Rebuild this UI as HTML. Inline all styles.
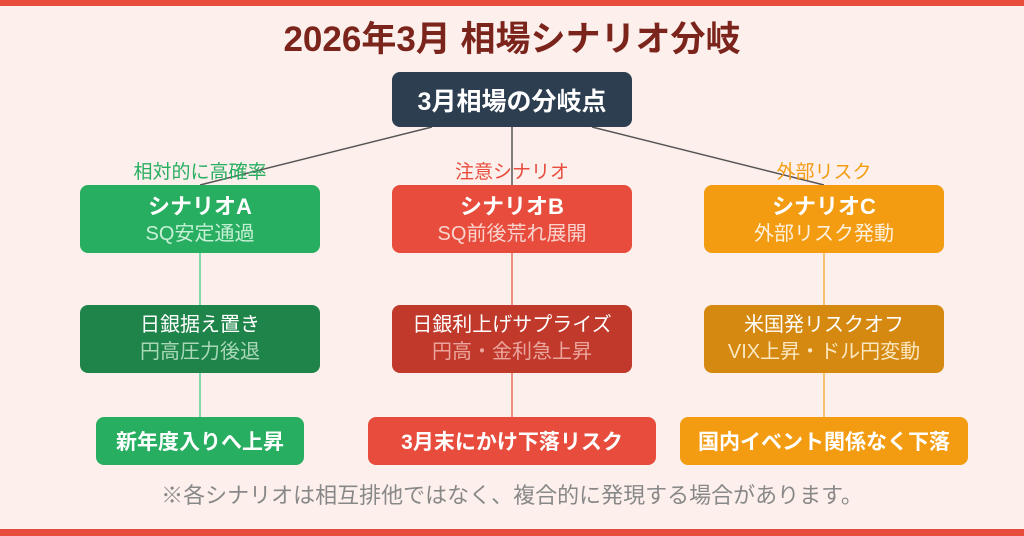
<!DOCTYPE html>
<html><head><meta charset="utf-8"><style>
*{margin:0;padding:0;box-sizing:border-box}
body{width:1024px;height:536px;background:#fdf0ec;position:relative;overflow:hidden;font-family:"Liberation Sans","Noto Sans CJK JP",sans-serif}
.bar{position:absolute;left:0;width:1024px;background:#e74c3c}
.b{position:absolute;border-radius:8px;color:#fff;text-align:center;display:flex;flex-direction:column;justify-content:center;align-items:center}
.t{position:absolute;text-align:center;white-space:nowrap}
.l1{font-size:22px;font-weight:bold;line-height:28px}
.l2{font-size:20px;line-height:27px}
</style></head><body>
<div class="bar" style="top:0;height:6px"></div>
<div class="bar" style="top:529px;height:7px"></div>
<div class="t" style="left:0;width:1024px;top:19px;font-size:35px;font-weight:bold;color:#7b241c;line-height:42px">2026年3月 相場シナリオ分岐</div>
<svg style="position:absolute;left:0;top:0" width="1024" height="536">
<line x1="432" y1="127" x2="200" y2="185" stroke="#555" stroke-width="1.5"/>
<line x1="512" y1="127" x2="512" y2="185" stroke="#555" stroke-width="1.5"/>
<line x1="592" y1="127" x2="824" y2="185" stroke="#555" stroke-width="1.5"/>
<line x1="200" y1="253" x2="200" y2="417" stroke="#58d68d" stroke-width="1.5"/>
<line x1="512" y1="253" x2="512" y2="417" stroke="#ec7063" stroke-width="1.5"/>
<line x1="824" y1="253" x2="824" y2="417" stroke="#f5b041" stroke-width="1.5"/>
</svg>
<div class="b" style="left:392px;top:72px;width:240px;height:55px;background:#2c3e50;font-size:25px;font-weight:bold">3月相場の分岐点</div>
<div class="t" style="left:50px;width:300px;top:161px;font-size:19px;line-height:24px;color:#27ae60">相対的に高確率</div>
<div class="t" style="left:362px;width:300px;top:161px;font-size:19px;line-height:24px;color:#e74c3c">注意シナリオ</div>
<div class="t" style="left:674px;width:300px;top:161px;font-size:19px;line-height:24px;color:#f39c12">外部リスク</div>
<div class="b" style="left:80px;top:185px;width:240px;height:68px;background:#27ae60;padding-top:2px"><div class="l1">シナリオA</div><div class="l2" style="color:#c8f0d6">SQ安定通過</div></div>
<div class="b" style="left:392px;top:185px;width:240px;height:68px;background:#e74c3c;padding-top:2px"><div class="l1">シナリオB</div><div class="l2" style="color:#fad4cf">SQ前後荒れ展開</div></div>
<div class="b" style="left:704px;top:185px;width:240px;height:68px;background:#f39c12;padding-top:2px"><div class="l1">シナリオC</div><div class="l2" style="color:#fdf0dc">外部リスク発動</div></div>
<div class="b" style="left:80px;top:305px;width:240px;height:68px;background:#1e8449"><div class="l2" style="color:#fff">日銀据え置き</div><div class="l2" style="color:#a9d8b8">円高圧力後退</div></div>
<div class="b" style="left:392px;top:305px;width:240px;height:68px;background:#c0392b"><div class="l2" style="color:#fff">日銀利上げサプライズ</div><div class="l2" style="color:#eba59d">円高・金利急上昇</div></div>
<div class="b" style="left:704px;top:305px;width:240px;height:68px;background:#d68910"><div class="l2" style="color:#fff">米国発リスクオフ</div><div class="l2" style="color:#fbe7c0">VIX上昇・ドル円変動</div></div>
<div class="b" style="left:96px;top:417px;width:208px;height:48px;background:#27ae60;font-size:21px;font-weight:bold">新年度入りへ上昇</div>
<div class="b" style="left:368px;top:417px;width:288px;height:48px;background:#e74c3c;font-size:21px;font-weight:bold">3月末にかけ下落リスク</div>
<div class="b" style="left:680px;top:417px;width:288px;height:48px;background:#f39c12;font-size:21px;font-weight:bold">国内イベント関係なく下落</div>
<div class="t" style="left:0;width:1024px;top:482px;font-size:22px;color:#888;line-height:28px">※各シナリオは相互排他ではなく、複合的に発現する場合があります。</div>
</body></html>
